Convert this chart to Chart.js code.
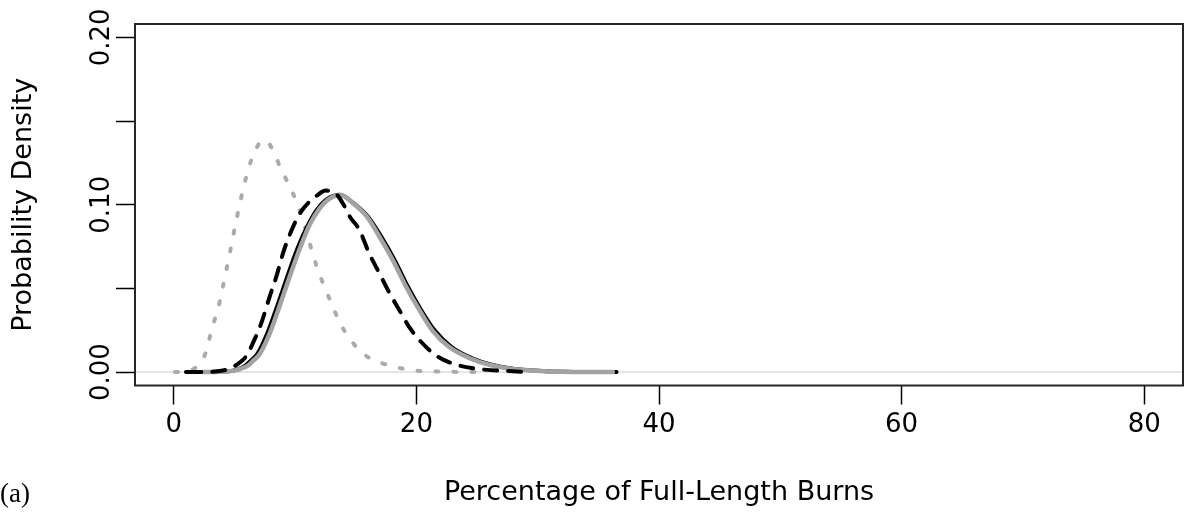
<!DOCTYPE html>
<html>
<head>
<meta charset="utf-8">
<script src="https://cdn.jsdelivr.net/npm/chart.js@4"></script>
<style>
  html, body { margin: 0; padding: 0; background: #ffffff; }
  #wrap { width: 1185px; height: 512px; }
</style>
</head>
<body>
<div id="wrap"><canvas id="c" width="1185" height="512"></canvas></div>
<script>
// ---- data ----
const xTickValues = [0, 20, 40, 60, 80];
const xTickLabels = ['0', '20', '40', '60', '80'];
const yTickValues = [0, 0.05, 0.10, 0.15, 0.20];
const yTickLabels = ['0.00', '', '0.10', '', '0.20'];

const xAxisTitle = 'Percentage of Full-Length Burns';
const yAxisTitle = 'Probability Density';
const panelLabel = '(a)';

// light grey dotted curve
const dottedGrayX = [0.1, 1.0, 2.0, 2.7, 3.1, 3.65, 4.3, 4.75, 5.16, 5.84, 6.4, 6.9, 7.3, 7.8, 8.2, 8.86, 9.55, 10.1, 10.64, 11.2, 11.74, 12.3, 13.0, 13.66, 14.5, 15.6, 16.8, 18.3, 19.8, 21.5, 23.5, 26.0];
const dottedGrayY = [0, 0.0005, 0.004, 0.013, 0.025, 0.038, 0.060, 0.076, 0.091, 0.113, 0.127, 0.135, 0.1385, 0.137, 0.132, 0.121, 0.111, 0.102, 0.091, 0.077, 0.064, 0.053, 0.041, 0.030, 0.020, 0.011, 0.0063, 0.003, 0.001, 0.0004, 0.0001, 0];

// black dashed curve
const dashedBlackX = [1.2, 2.7, 3.6, 4.6, 5.2, 5.7, 6.1, 6.5, 7.2, 7.9, 8.45, 9.0, 9.55, 10.1, 10.6, 11.2, 11.8, 12.5, 13.0, 13.4, 14.0, 14.5, 15.3, 16.1, 16.95, 17.8, 18.6, 19.4, 20.4, 21.6, 23.3, 25.2, 27.9, 29.5];
const dashedBlackY = [0, 0, 0.0005, 0.002, 0.0045, 0.0073, 0.011, 0.017, 0.029, 0.045, 0.057, 0.071, 0.082, 0.091, 0.097, 0.102, 0.1055, 0.1085, 0.108, 0.1064, 0.100, 0.093, 0.085, 0.071, 0.059, 0.047, 0.037, 0.027, 0.018, 0.010, 0.0044, 0.0018, 0.0005, 0];

// black solid curve
const solidBlackX = [1.0, 2.5, 3.4, 4.5, 5.2, 5.8, 6.3, 6.9, 7.7, 8.5, 9.35, 10.2, 11.0, 11.8, 12.65, 13.7, 14.8, 16.0, 17.1, 18.2, 19.3, 20.4, 21.5, 22.9, 24.6, 26.2, 28.1, 30.7, 33.2, 36.5];
const solidBlackY = [0, 0, 0.0001, 0.0005, 0.0015, 0.0034, 0.0065, 0.011, 0.023, 0.039, 0.057, 0.074, 0.087, 0.097, 0.1035, 0.106, 0.101, 0.093, 0.081, 0.067, 0.051, 0.037, 0.025, 0.015, 0.0083, 0.0044, 0.0018, 0.0005, 0.0001, 0];

// grey solid curve
const solidGrayX = [2.4, 3.5, 4.6, 5.3, 6.0, 6.5, 7.1, 7.9, 8.7, 9.55, 10.4, 11.2, 12.0, 12.8, 13.8, 14.75, 15.9, 16.95, 18.05, 19.15, 20.25, 21.3, 22.7, 24.4, 26.0, 27.9, 30.5, 33.0, 36.2];
const solidGrayY = [0, 0.0001, 0.0005, 0.0015, 0.0034, 0.0065, 0.011, 0.023, 0.039, 0.057, 0.074, 0.088, 0.0975, 0.1035, 0.1059, 0.101, 0.093, 0.081, 0.067, 0.051, 0.037, 0.025, 0.015, 0.0083, 0.0044, 0.0018, 0.0005, 0.0001, 0];

function pts(xs, ys) { return xs.map((x, i) => ({ x: x, y: ys[i] })); }

const FONT = 'DejaVu Sans';

const framePlugin = {
  id: 'frame',
  beforeDatasetsDraw(chart) {
    const { ctx, chartArea } = chart;
    const y0 = chart.scales.y.getPixelForValue(0);
    ctx.save();
    ctx.strokeStyle = '#e6e6e6';
    ctx.lineWidth = 2;
    ctx.beginPath();
    ctx.moveTo(chartArea.left, y0);
    ctx.lineTo(chartArea.right, y0);
    ctx.stroke();
    ctx.restore();
  },
  afterDatasetsDraw(chart) {
    const { ctx, chartArea } = chart;
    ctx.save();
    ctx.strokeStyle = '#262626';
    ctx.lineWidth = 2;
    ctx.strokeRect(chartArea.left, chartArea.top, chartArea.right - chartArea.left, chartArea.bottom - chartArea.top);
    ctx.restore();
  },
  afterDraw(chart) {
    const { ctx } = chart;
    ctx.save();
    ctx.fillStyle = '#000';
    ctx.font = '27px "Liberation Serif"';
    ctx.textAlign = 'left';
    ctx.textBaseline = 'alphabetic';
    ctx.fillText(panelLabel, 0, 502);
    ctx.restore();
  }
};

new Chart(document.getElementById('c'), {
  type: 'line',
  data: {
    datasets: [
      { label: 'dotted', data: pts(dottedGrayX, dottedGrayY), borderColor: '#ababab', borderWidth: 4,
        borderDash: [3, 15], borderCapStyle: 'round', pointRadius: 0, cubicInterpolationMode: 'monotone', order: 4 },
      { label: 'solid black', data: pts(solidBlackX, solidBlackY), borderColor: '#000000', borderWidth: 4,
        borderCapStyle: 'round', pointRadius: 0, cubicInterpolationMode: 'monotone', order: 3 },
      { label: 'solid gray', data: pts(solidGrayX, solidGrayY), borderColor: '#a3a3a3', borderWidth: 4.5,
        borderCapStyle: 'round', pointRadius: 0, cubicInterpolationMode: 'monotone', order: 2 },
      { label: 'dashed', data: pts(dashedBlackX, dashedBlackY), borderColor: '#000000', borderWidth: 4,
        borderDash: [13, 11], borderCapStyle: 'round', pointRadius: 0, cubicInterpolationMode: 'monotone', order: 1 }
    ]
  },
  options: {
    responsive: false,
    animation: false,
    devicePixelRatio: 1,
    layout: { padding: { left: 0, top: 24, right: 2, bottom: 0 } },
    plugins: { legend: { display: false }, tooltip: { enabled: false } },
    scales: {
      x: {
        type: 'linear',
        min: -3.2, max: 83.2,
        afterBuildTicks: s => { s.ticks = xTickValues.map(v => ({ value: v })); },
        afterFit: s => { s.height = 126.5; },
        grid: { display: true, drawOnChartArea: false, drawTicks: true, tickLength: 19, tickColor: '#000', tickWidth: 1.5 },
        border: { display: false },
        ticks: {
          autoSkip: false, maxRotation: 0, minRotation: 0, padding: 5.5, color: '#000',
          font: { family: FONT, size: 26, lineHeight: 1.2 },
          callback: (v, i) => xTickLabels[i]
        },
        title: { display: true, text: xAxisTitle, color: '#000', font: { family: FONT, size: 27, lineHeight: 1.2 },
          padding: { top: 0, bottom: 3.0 } }
      },
      y: {
        type: 'linear',
        min: -0.008, max: 0.208,
        afterBuildTicks: s => { s.ticks = yTickValues.map(v => ({ value: v })); },
        afterFit: s => { s.width = 135; },
        grid: { display: true, drawOnChartArea: false, drawTicks: true, tickLength: 19, tickColor: '#000', tickWidth: 1.5 },
        border: { display: false },
        ticks: {
          autoSkip: false, minRotation: 90, maxRotation: 90, crossAlign: 'center', padding: -15.3, color: '#000',
          font: { family: FONT, size: 26, lineHeight: 1.2 },
          callback: (v, i) => yTickLabels[i]
        },
        title: { display: true, text: yAxisTitle, color: '#000', font: { family: FONT, size: 27, lineHeight: 1.2 },
          padding: { top: 8, bottom: 0 } }
      }
    }
  },
  plugins: [framePlugin]
});
</script>
</body>
</html>
